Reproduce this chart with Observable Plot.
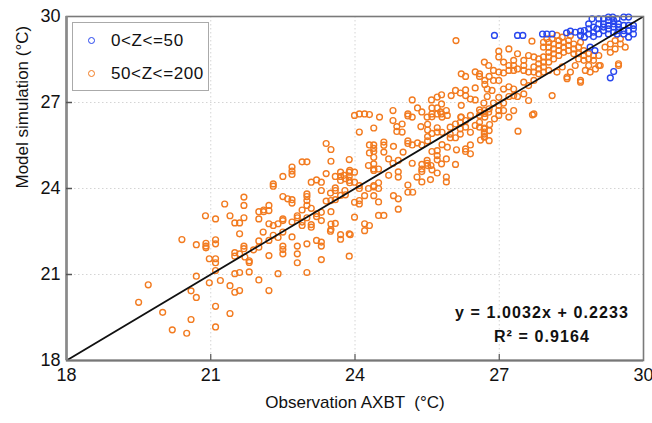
<!DOCTYPE html>
<html><head><meta charset="utf-8">
<script src="https://cdn.jsdelivr.net/npm/d3@7"></script>
<script src="https://cdn.jsdelivr.net/npm/@observablehq/plot@0.6"></script>
<style>
body{margin:0;background:#fff;font-family:"Liberation Sans",Arial,sans-serif;}
#wrap{position:relative;width:652px;height:423px;}
#legend{position:absolute;left:72px;top:22px;width:135px;height:67px;border:1px solid #aaa;background:#fff;font-size:17px;letter-spacing:0.6px;color:#111;}
.li{position:absolute;left:0;height:20px;line-height:20px;}
.mk{position:absolute;left:15px;top:6px;width:5px;height:5px;border-radius:50%;border:1.6px solid;}
.lt{position:absolute;left:38px;top:0;white-space:nowrap;}
#eq{position:absolute;left:432px;top:301px;width:220px;text-align:center;font-weight:bold;font-size:16px;letter-spacing:1.1px;line-height:24px;color:#111;}
</style></head>
<body><div id="wrap"></div>
<script>
const xTicks = [18, 21, 24, 27, 30];
const yTicks = [18, 21, 24, 27, 30];
const seriesNames = ["0<Z<=50", "50<Z<=200"];
const seriesColors = ["#2746ee", "#f27b20"];
const fitLine = [[18, 18.0], [30, 30.0]];
const eqText = "y = 1.0032x + 0.2233";
const r2Text = "R² = 0.9164";

// 50<Z<=200 : [observation, simulation]
const deepPoints = [
[20.40,22.22],[20.70,22.04],[20.90,22.09],[20.90,21.99],[20.90,21.93],[20.97,21.55],[20.70,20.94],[19.70,20.64],[20.97,20.71],[20.59,20.43],[20.70,20.20],[19.50,20.03],[20.00,19.68],[20.59,19.43],[20.20,19.07],[20.50,18.95],
[21.10,22.21],[21.10,22.07],[21.60,22.42],[22.09,22.48],[22.30,22.37],[22.40,22.29],[22.50,22.48],[22.69,22.31],[23.00,22.07],[23.20,22.19],[23.30,22.13],[23.30,21.99],[23.49,22.51],[23.70,22.39],[23.70,22.23],[23.88,22.42],[23.88,21.64],[23.30,21.52],[22.80,21.99],[22.80,21.72],[22.80,21.41],[23.00,21.07],[22.50,21.99],[22.50,21.87],[22.50,21.72],[22.21,22.19],[22.21,21.66],[22.40,21.03],[22.21,20.44],[22.00,22.17],[22.00,21.95],[22.00,20.81],[21.89,21.86],[21.80,21.48],[21.80,21.42],[21.80,21.09],[21.69,21.99],[21.69,21.90],[21.71,21.61],[21.60,21.72],[21.50,21.76],[21.50,21.64],[21.60,21.07],[21.50,21.03],[21.60,20.44],[21.50,20.38],[21.40,20.61],[21.20,20.79],[21.10,21.55],[21.10,21.41],[21.10,21.14],[21.10,19.89],[21.40,19.64],[21.10,19.17],
[23.40,25.57],[23.50,25.36],[23.50,24.95],[23.88,25.01],[22.90,24.93],[23.00,24.93],[22.69,24.75],[22.69,24.61],[22.69,24.49],[22.50,24.42],[22.30,24.16],[22.30,24.08],[23.09,24.22],[23.20,24.30],[23.30,24.22],[23.40,24.52],[23.59,24.42],[23.70,24.57],[23.70,24.42],[23.70,24.28],[23.88,24.57],[23.88,24.42],[23.88,24.28],[23.30,23.93],[23.59,24.02],[23.59,23.93],[23.79,23.93],[23.49,23.84],[23.00,23.81],[23.00,23.72],[23.00,23.58],[23.00,23.41],[22.50,23.72],[22.60,23.64],[22.69,23.61],[22.69,23.49],[23.40,23.56],[23.50,23.58],[23.59,23.61],[23.70,23.76],[21.69,23.70],[21.69,23.41],[21.29,23.46],
[22.10,23.25],[22.10,23.19],[22.21,23.41],[22.21,23.23],[22.00,23.19],[22.00,22.94],[22.90,23.25],[22.80,23.05],[23.09,23.31],[23.20,23.12],[23.30,23.17],[23.50,23.19],[23.50,22.76],[23.59,22.78],[23.50,22.57],[20.89,23.05],[21.10,22.94],[21.40,23.05],[21.50,22.80],[21.60,22.80],[21.69,22.98],
[22.21,22.77],[22.30,22.71],[22.40,22.77],[22.50,22.88],[22.50,22.94],[22.69,22.83],[22.80,22.98],[22.90,22.83],[22.90,22.71],[23.00,22.98],[23.09,22.74],[23.09,22.65],[23.20,23.02],[23.30,22.88],
[23.99,26.55],[24.09,26.60],[24.20,26.60],[24.30,26.58],[24.51,26.49],[24.79,26.37],[24.87,26.16],[24.98,26.25],[24.87,25.99],[24.98,25.97],[25.10,26.60],[25.10,26.53],[25.19,26.49],[25.39,26.67],[25.37,26.16],[25.51,26.24],[25.60,26.50],[25.71,26.12],[25.81,26.49],[25.78,26.67],[25.92,26.55],[25.51,26.04],[25.60,25.92],[25.51,25.81],[25.51,25.66],[25.71,25.97],[25.81,25.96],[25.98,26.14],[26.09,26.25],[26.19,26.31],[26.30,26.37],[26.20,26.49],[25.98,25.90],[25.98,25.77],[26.09,25.77],[26.19,25.90],[26.19,26.08],[26.30,26.14],[26.40,25.96],[26.50,26.20],[26.59,26.31],[26.59,26.14],[26.69,26.08],[26.69,25.90],[26.69,25.79],[26.79,25.67],[26.79,26.02],[26.40,25.52],[26.40,25.21],[26.30,25.38],[26.30,25.29],[26.11,25.35],[25.81,25.53],[25.92,25.44],[25.71,25.32],[25.60,25.29],[25.39,25.52],[25.30,25.59],[25.19,25.52],[25.10,25.66],[25.10,25.57],[25.00,25.27],[24.80,25.47],
[24.60,25.62],[24.60,25.51],[24.60,25.27],[24.39,25.52],[24.39,25.40],[24.39,25.29],[24.30,25.52],[24.30,25.24],[24.09,25.97],[24.39,26.11],[24.70,25.03],[24.79,24.88],[24.90,24.98],
[25.19,24.88],[25.39,24.84],[25.50,24.98],[25.50,24.88],[25.51,24.80],[25.58,24.80],[25.71,25.00],[25.80,24.86],[25.90,25.03],[26.09,24.84],
[25.39,24.68],[25.39,24.59],[25.60,24.65],[25.71,24.54],[25.29,24.40],[25.39,24.23],[25.57,24.31],[25.90,24.40],[25.90,24.23],[25.71,25.15],[25.10,24.12],[25.10,23.87],[25.20,23.87],[24.90,24.58],[24.90,24.40],[24.70,24.46],[24.80,23.75],[24.90,23.64],[24.90,23.28],[24.49,24.20],[24.39,24.10],[24.39,24.06],[24.49,24.00],[24.28,24.00],[24.39,23.75],[24.49,23.53],[24.49,23.06],[24.60,23.06],[24.39,25.09],[24.39,24.86],[24.39,24.68],[24.39,24.63],[24.49,24.68],[24.28,24.80],[23.89,24.63],[23.99,24.57],[23.99,24.22],[23.89,24.20],[24.09,24.10],[24.09,24.00],[24.20,23.75],[24.09,23.58],[24.09,23.46],[23.99,23.52],[23.99,23.00],[23.77,24.46],[23.80,24.34],[23.80,23.78],[24.20,22.77],[24.30,22.71],[23.90,22.39],[24.20,22.53],
[26.10,29.16],[26.69,28.41],[26.21,28.00],[26.30,27.91],[26.50,28.07],[26.59,28.00],[26.59,27.91],[26.70,27.77],[26.70,27.63],[26.79,27.91],[26.09,27.42],[26.19,27.33],[26.30,27.44],[26.30,27.24],[26.40,27.12],[26.50,27.09],[26.50,27.51],[26.00,27.24],[25.80,27.27],[25.71,27.19],[25.59,27.09],[25.60,26.81],[25.71,26.81],[25.80,26.95],[25.80,26.60],[25.90,26.72],[25.71,26.60],[25.60,26.60],[25.50,26.49],[26.21,26.90],[26.21,26.49],[25.19,27.09],[25.30,26.81],[24.79,26.72],[26.59,26.74],[26.70,26.62],[26.79,26.78],[26.59,26.55],[26.70,26.49],[26.40,26.55],
[27.68,29.14],[26.99,28.79],[27.20,28.87],[26.99,28.59],[27.09,28.41],[27.30,28.47],[27.30,28.29],[27.20,28.29],[26.78,28.29],[26.88,28.12],[26.99,28.06],[26.99,27.77],[26.88,27.77],[27.09,28.03],[27.20,28.12],[27.30,28.12],[27.38,28.17],[27.51,28.12],[27.61,28.06],[27.51,28.29],[27.51,28.47],[27.61,28.64],[27.38,28.70],
[27.72,28.59],[27.82,28.52],[27.82,28.35],[27.72,28.24],[27.82,28.17],[27.92,28.24],[27.92,28.06],[28.03,28.12],[27.72,28.06],[27.82,28.00],[27.92,28.41],[27.92,28.59],[28.03,28.41],[28.03,28.59],[28.03,28.75],[27.92,28.93],[28.03,28.93],[27.92,29.10],[28.03,29.10],[28.13,29.04],[28.13,28.87],[28.13,28.70],[28.13,28.52],[28.24,28.64],[28.24,28.81],[28.24,28.99],[28.24,29.16],[28.34,29.10],[28.34,28.93],[28.34,28.75],[28.44,28.81],[28.44,28.99],[28.44,29.16],[28.55,29.04],[28.55,28.87],[28.55,28.70],[28.65,28.70],[28.65,28.52],[28.76,28.64],[28.76,28.81],[28.76,28.47],[28.86,28.52],[28.86,28.70],[28.96,28.64],[28.96,28.47],[29.07,28.64],[29.10,28.29],[28.86,28.29],[28.65,28.93],[28.69,29.10],[28.48,29.34],[28.31,29.28],[28.20,29.34],[28.10,29.22],[27.99,29.22],
[29.20,28.93],[29.31,29.04],[29.41,29.16],[29.52,29.04],[29.62,28.93],[29.41,28.87],[29.31,28.75],[29.52,29.22],[29.48,28.35],[29.48,28.29],
[26.75,27.47],[26.85,27.42],[26.75,27.21],[26.68,26.98],[26.88,26.98],[26.99,27.18],[27.09,27.47],[27.20,27.55],[27.30,27.47],[27.30,27.24],[27.20,27.21],[27.09,26.98],[26.99,26.90],[27.38,27.21],[27.51,27.71],[27.61,27.59],[27.72,27.77],[27.51,27.30],[27.61,27.07],[27.72,26.60],[28.10,27.24],[28.41,27.89],[28.41,27.83],[28.69,27.77],[28.69,27.71],[28.20,28.06],[28.31,28.24],[28.48,28.06],[28.58,28.29],[28.79,28.12],[28.89,28.06],[29.00,28.17],[29.07,28.29],
[26.61,26.66],[26.69,26.72],[26.78,26.66],[26.99,26.72],[26.99,26.55],[27.09,26.72],[27.20,26.49],[27.30,26.72],[27.69,26.57],[27.39,26.00],[26.90,26.43],[26.80,26.23],[26.69,26.11],[26.69,25.97],[26.69,25.81],[26.61,25.69]
];

// 0<Z<=50 : [observation, simulation]
const shallowPoints = [
[26.90,29.34],[27.38,29.34],[27.49,29.34],[27.90,29.39],[27.99,29.39],[28.10,29.39],[28.40,29.43],[28.48,29.49],[28.58,29.45],[28.69,29.49],[28.77,29.51],[28.86,29.57],[28.96,29.63],[28.86,29.74],[28.93,29.92],[29.07,29.92],[29.17,29.92],[29.27,29.98],[29.36,29.98],[29.45,29.92],[29.59,29.98],[29.69,29.98],[29.79,29.69],[29.79,29.57],[29.79,29.39],[29.69,29.28],[29.59,29.39],[29.48,29.51],[29.38,29.45],[29.27,29.39],[29.17,29.51],[29.07,29.39],[28.96,29.45],[29.17,29.74],[29.27,29.69],[29.38,29.74],[29.48,29.74],[29.27,29.86],[29.38,29.86],[29.17,29.63],[29.27,29.57],[29.38,29.63],[29.48,29.63],[29.59,29.51],[29.69,29.51],[29.59,29.69],[29.69,29.69],[29.03,29.57],[28.77,29.28],[28.86,29.39],[28.96,29.30],[28.69,29.34],[29.38,28.08],[29.31,27.86],[29.07,29.74],[29.45,29.39],[28.99,28.81],[28.89,28.93]
];

const fontFam = '"Liberation Sans", Arial, sans-serif';
const chart = Plot.plot({
  width: 652, height: 423,
  marginLeft: 66, marginRight: 9, marginTop: 16, marginBottom: 63,
  style: {fontFamily: fontFam, fontSize: "16px", color: "#111", background: "#fff"},
  x: {domain: [18, 30]},
  y: {domain: [18, 30]},
  marks: [
    Plot.ruleX(xTicks.slice(1, -1), {stroke: "#d4d4d4", strokeDasharray: "1.5,2.5", strokeWidth: 1}),
    Plot.ruleY(yTicks.slice(1, -1), {stroke: "#d4d4d4", strokeDasharray: "1.5,2.5", strokeWidth: 1}),
    Plot.dot(deepPoints, {x: d => d[0], y: d => d[1], r: 2.9, stroke: seriesColors[1], strokeWidth: 1.4, fill: "none"}),
    Plot.dot(shallowPoints, {x: d => d[0], y: d => d[1], r: 2.9, stroke: seriesColors[0], strokeWidth: 1.4, fill: "none"}),
    Plot.line(fitLine, {x: d => d[0], y: d => d[1], stroke: "#111", strokeWidth: 1.8, clip: true}),
    Plot.frame({stroke: "#7a7a7a", strokeWidth: 1.6}),
    Plot.ruleX([18], {stroke: "#8a8a8a", strokeWidth: 2.6}),
    Plot.ruleY([18], {stroke: "#777", strokeWidth: 2}),
    Plot.ruleX(xTicks.slice(1, -1), {stroke: "#555", strokeWidth: 1.2, insetTop: 338}),
    Plot.ruleY(yTicks.slice(1, -1), {stroke: "#555", strokeWidth: 1.5, insetRight: 571}),
    Plot.axisX({ticks: xTicks.slice(0, -1), tickSize: 0, tickPadding: 8, label: null, fontSize: 18, letterSpacing: 0.5}),
    Plot.axisX({ticks: xTicks.slice(-1), tickSize: 0, tickPadding: 8, label: null, fontSize: 18, textAnchor: "end", dx: 10}),
    Plot.axisY({ticks: yTicks, tickSize: 0, tickPadding: 6, label: null, fontSize: 18, letterSpacing: 0.5}),
    Plot.text(["Model simulation (°C)"], {frameAnchor: "left", rotate: -90, dx: -44, fontSize: 17, letterSpacing: 0.4}),
    Plot.text(["Observation AXBT  (°C)"], {frameAnchor: "bottom", dy: 47, fontSize: 17, letterSpacing: 0.4})
  ]
});
const wrap = document.getElementById("wrap");
wrap.appendChild(chart);
const leg = document.createElement("div");
leg.id = "legend";
seriesNames.forEach((n, i) => {
  const li = document.createElement("div");
  li.className = "li";
  li.style.top = (8 + i * 33) + "px";
  li.style.width = "135px";
  li.innerHTML = `<span class="mk" style="border-color:${seriesColors[i]}"></span><span class="lt">${n.replace(/</g,"&lt;")}</span>`;
  leg.appendChild(li);
});
wrap.appendChild(leg);
const eq = document.createElement("div");
eq.id = "eq";
eq.innerHTML = eqText + "<br>" + r2Text;
wrap.appendChild(eq);
</script></body></html>
